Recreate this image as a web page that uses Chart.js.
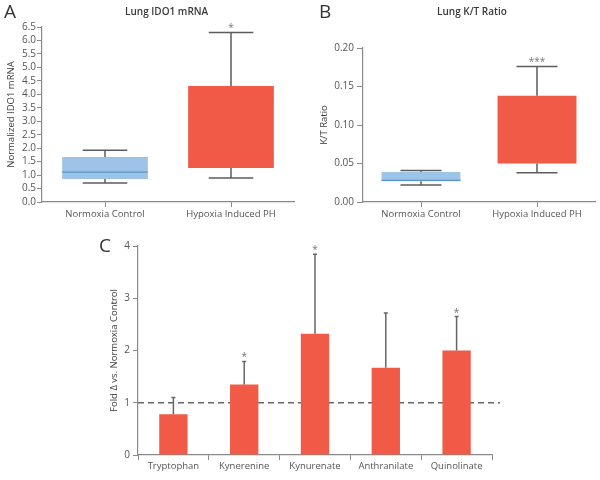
<!DOCTYPE html>
<html>
<head>
<meta charset="utf-8">
<script src="https://cdn.jsdelivr.net/npm/chart.js@4"></script>
<style>
  body { margin: 0; background: #fff; font-family: "Open Sans", sans-serif; }
  #wrap { position: relative; width: 600px; height: 480px; }
  canvas { position: absolute; }
  .txt { position: absolute; color: #333; white-space: nowrap; line-height: 1; }
  .ttl { font-size: 10px; font-weight: 600; color: #3a3a3a; }
</style>
</head>
<body>
<div id="wrap">
  <canvas id="chartA" width="300" height="230" style="left:0;top:0"></canvas>
  <canvas id="chartB" width="300" height="230" style="left:300px;top:0"></canvas>
  <canvas id="chartC" width="600" height="250" style="left:0;top:230px"></canvas>
  <div class="txt" style="left:4px;top:2px;font-size:19px">A</div>
  <div class="txt" style="left:319px;top:2px;font-size:19px">B</div>
  <div class="txt" style="left:99px;top:236px;font-size:19px">C</div>
  <div class="txt ttl" style="left:125px;top:6px">Lung IDO1 mRNA</div>
  <div class="txt ttl" style="left:437px;top:6px">Lung K/T Ratio</div>
</div>
<script>
// panel A + B : box plots
const groups = ['Normoxia Control', 'Hypoxia Induced PH'];
const boxColors = ['#9DC3E6', '#F05A46'];

const idoMin = [0.71, 0.89];
const idoQ1 = [0.85, 1.26];
const idoMedian = [1.11, null];
const idoQ3 = [1.67, 4.31];
const idoMax = [1.92, 6.30];
const idoStars = ['', '*'];

const ktMin = [0.022, 0.038];
const ktQ1 = [0.027, 0.050];
const ktMedian = [0.028, null];
const ktQ3 = [0.039, 0.138];
const ktMax = [0.041, 0.176];
const ktStars = ['', '***'];

// panel C : fold change bars
const metabolites = ['Tryptophan', 'Kynerenine', 'Kynurenate', 'Anthranilate', 'Quinolinate'];
const foldMean = [0.78, 1.35, 2.32, 1.67, 2.0];
const foldUpper = [1.10, 1.79, 3.84, 2.72, 2.65];
const foldStars = ['', '*', '*', '', '*'];
const referenceLine = 1;

const FONT = '"Open Sans"';
const tickColor = '#555';
const axisColor = '#8a8a8a';
const whiskerColor = '#5c5c5c';

Chart.defaults.font.family = FONT;
Chart.defaults.font.size = 9.5;
Chart.defaults.color = tickColor;
Chart.defaults.animation = false;

function boxPlugin(mins, q1s, medians, q3s, maxs, stars) {
  return {
    id: 'boxWhiskers',
    afterDatasetsDraw(chart) {
      const ctx = chart.ctx;
      const y = chart.scales.y;
      chart.getDatasetMeta(0).data.forEach((bar, i) => {
        const x = bar.x;
        const half = bar.width / 2;
        const cap = bar.width * 0.26;
        const pMin = y.getPixelForValue(mins[i]);
        const pMax = y.getPixelForValue(maxs[i]);
        const pQ1 = y.getPixelForValue(q1s[i]);
        const pQ3 = y.getPixelForValue(q3s[i]);
        ctx.save();
        ctx.strokeStyle = whiskerColor;
        ctx.lineWidth = 1.5;
        ctx.beginPath();
        ctx.moveTo(x, pQ3); ctx.lineTo(x, pMax);
        ctx.moveTo(x - cap, pMax); ctx.lineTo(x + cap, pMax);
        ctx.moveTo(x, pQ1); ctx.lineTo(x, pMin);
        ctx.moveTo(x - cap, pMin); ctx.lineTo(x + cap, pMin);
        ctx.stroke();
        if (medians[i] !== null) {
          const pMed = y.getPixelForValue(medians[i]);
          ctx.strokeStyle = '#5B95CC';
          ctx.lineWidth = 1.2;
          ctx.beginPath();
          ctx.moveTo(x - half, pMed); ctx.lineTo(x + half, pMed);
          ctx.stroke();
        }
        if (stars[i]) {
          ctx.fillStyle = '#777';
          ctx.font = '10px ' + FONT;
          ctx.textAlign = 'center';
          ctx.textBaseline = 'alphabetic';
          ctx.fillText(stars[i], x, pMax - 1);
        }
        ctx.restore();
      });
    }
  };
}

function boxChart(id, q1s, q3s, plugin, yOpts, yWidth, rightPad, titleText, titlePad) {
  return new Chart(document.getElementById(id), {
    type: 'bar',
    data: {
      labels: groups,
      datasets: [{
        data: q1s.map((v, i) => [v, q3s[i]]),
        backgroundColor: boxColors,
        borderWidth: 0,
        barPercentage: 0.68,
        categoryPercentage: 1
      }]
    },
    options: {
      responsive: false,
      layout: { padding: { top: yOpts.top, right: rightPad, left: 0, bottom: 0 } },
      plugins: { legend: { display: false }, tooltip: { enabled: false } },
      scales: {
        x: {
          grid: { offset: false, drawOnChartArea: false, tickLength: 5, color: axisColor },
          border: { color: axisColor, width: 1.2 },
          ticks: { padding: 2, color: tickColor },
          afterFit: s => { s.height = 28; }
        },
        y: {
          min: 0, max: yOpts.max,
          grid: { drawOnChartArea: false, tickLength: yOpts.tickLen, color: axisColor },
          border: { color: axisColor, width: 1.2 },
          ticks: { stepSize: yOpts.step, padding: yOpts.pad, color: tickColor, autoSkip: false,
                   font: { size: yOpts.font },
                   callback: v => v.toFixed(yOpts.dec) },
          title: { display: true, text: titleText, color: '#3a3a3a', font: { size: 9.5 },
                   padding: { top: titlePad, bottom: 0 } },
          afterFit: s => { s.width = yWidth; }
        }
      }
    },
    plugins: [plugin]
  });
}

boxChart('chartA', idoQ1, idoQ3,
  boxPlugin(idoMin, idoQ1, idoMedian, idoQ3, idoMax, idoStars),
  { top: 27, max: 6.5, step: 0.5, dec: 1, tickLen: 5, pad: 1, font: 10 }, 42, 6,
  'Normalized IDO1 mRNA', 6);

boxChart('chartB', ktQ1, ktQ3,
  boxPlugin(ktMin, ktQ1, ktMedian, ktQ3, ktMax, ktStars),
  { top: 48, max: 0.2, step: 0.05, dec: 2, tickLen: 6, pad: 3, font: 10 }, 63, 5,
  'K/T Ratio', 19);

// error bars, stars and the dashed reference line for panel C
const barExtras = {
  id: 'barExtras',
  beforeDatasetsDraw(chart) {
    const ctx = chart.ctx;
    const area = chart.chartArea;
    const py = chart.scales.y.getPixelForValue(referenceLine);
    ctx.save();
    ctx.strokeStyle = '#666';
    ctx.lineWidth = 1.5;
    ctx.setLineDash([6, 4]);
    ctx.beginPath();
    ctx.moveTo(area.left, py);
    ctx.lineTo(area.right + 8, py);
    ctx.stroke();
    ctx.restore();
  },
  afterDatasetsDraw(chart) {
    const ctx = chart.ctx;
    const y = chart.scales.y;
    chart.getDatasetMeta(0).data.forEach((bar, i) => {
      const x = bar.x;
      const top = y.getPixelForValue(foldUpper[i]);
      ctx.save();
      ctx.strokeStyle = '#666';
      ctx.lineWidth = 1.5;
      ctx.beginPath();
      ctx.moveTo(x, bar.y); ctx.lineTo(x, top);
      ctx.moveTo(x - 2, top); ctx.lineTo(x + 2, top);
      ctx.stroke();
      if (foldStars[i]) {
        ctx.fillStyle = '#777';
        ctx.font = '10px ' + FONT;
        ctx.textAlign = 'center';
        ctx.fillText(foldStars[i], x, top - 1);
      }
      ctx.restore();
    });
  }
};

new Chart(document.getElementById('chartC'), {
  type: 'bar',
  data: {
    labels: metabolites,
    datasets: [{
      data: foldMean,
      backgroundColor: '#F05A46',
      borderWidth: 0,
      barPercentage: 0.4,
      categoryPercentage: 1
    }]
  },
  options: {
    responsive: false,
    layout: { padding: { top: 16, right: 108, left: 100, bottom: 0 } },
    plugins: { legend: { display: false }, tooltip: { enabled: false } },
    scales: {
      x: {
        grid: { drawOnChartArea: false, tickLength: 5, color: axisColor },
        border: { color: axisColor, width: 1.2 },
        ticks: { padding: 1, color: tickColor },
        afterFit: s => { s.height = 25; }
      },
      y: {
        min: 0, max: 4,
        grid: { drawOnChartArea: false, tickLength: 5, color: axisColor },
        border: { color: axisColor, width: 1.2 },
        ticks: { stepSize: 1, padding: 3, color: tickColor, font: { size: 10 } },
        title: { display: true, text: 'Fold \u0394 vs. Normoxia Control', color: '#3a3a3a',
                 padding: { top: 9, bottom: 0 } },
        afterFit: s => { s.width = 38; }
      }
    }
  },
  plugins: [barExtras]
});
</script>
</body>
</html>
